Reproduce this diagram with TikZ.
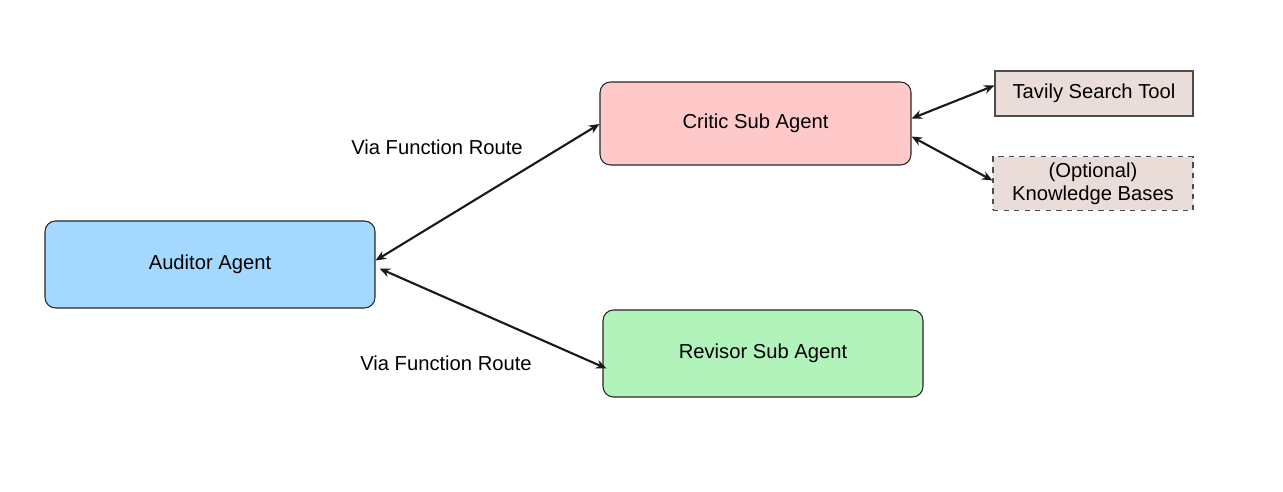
\documentclass[tikz,border=0pt]{standalone}
\usepackage{fontspec}
\setmainfont{Liberation Sans}
\usetikzlibrary{arrows.meta,calc}
\definecolor{bleuagent}{HTML}{A5D8FF}
\definecolor{rosecritic}{HTML}{FFC9C9}
\definecolor{vertrevisor}{HTML}{B2F2BB}
\definecolor{beigetool}{HTML}{EADDD7}
\tikzset{
  agent/.style={draw=black!85,line width=0.6pt,rounded corners=6pt,align=center,font=\fontsize{11.5}{13}\selectfont},
  tool/.style={draw=black!70,line width=0.6pt,fill=beigetool,align=center,font=\fontsize{11.5}{13}\selectfont},
  lien/.style={line width=1.2pt,black!90,{Stealth[length=6pt,width=5pt]}-{Stealth[length=6pt,width=5pt]}},
}
\begin{document}
\begin{tikzpicture}[x=0.02cm,y=-0.02cm]
    \useasboundingbox (0,0) rectangle (1283,492);
    \node[agent,fill=bleuagent,minimum width=330*0.02cm,minimum height=87*0.02cm] (auditor) at (210,264.5) {Auditor Agent}; %Agent principal
    \node[agent,fill=rosecritic,minimum width=311*0.02cm,minimum height=83*0.02cm] (critic) at (755.5,123.5) {Critic Sub Agent}; %Critique
    \node[agent,fill=vertrevisor,minimum width=320*0.02cm,minimum height=87*0.02cm] (revisor) at (763,353.5) {Revisor Sub Agent}; %Reviseur
    \node[tool,minimum width=198*0.02cm,minimum height=45*0.02cm] (tavily) at (1094,93.5) {Tavily Search Tool}; %Outil
    \node[tool,dashed,minimum width=200*0.02cm,minimum height=51*0.02cm] (kb) at (1093,183.5) {(Optional)\\Knowledge Bases}; %Bases
    \draw[lien] ($(auditor.east)+(0,-4)$) -- ($(critic.west)+(0,0.5)$); %Route haut
    \draw[lien] ($(auditor.east)+(4,4)$) -- ($(revisor.west)+(4,15)$); %Route bas
    \draw[lien] ($(critic.east)+(0,-5)$) -- ($(tavily.west)+(0,-8)$);
    \draw[lien] ($(critic.east)+(0,13)$) -- ($(kb.west)+(0,-3)$);
    \node[font=\fontsize{11.5}{13}\selectfont] (route1) at (437,147) {Via Function Route};
    \node[font=\fontsize{11.5}{13}\selectfont] (route2) at (446,363) {Via Function Route};
\end{tikzpicture}
\end{document}
